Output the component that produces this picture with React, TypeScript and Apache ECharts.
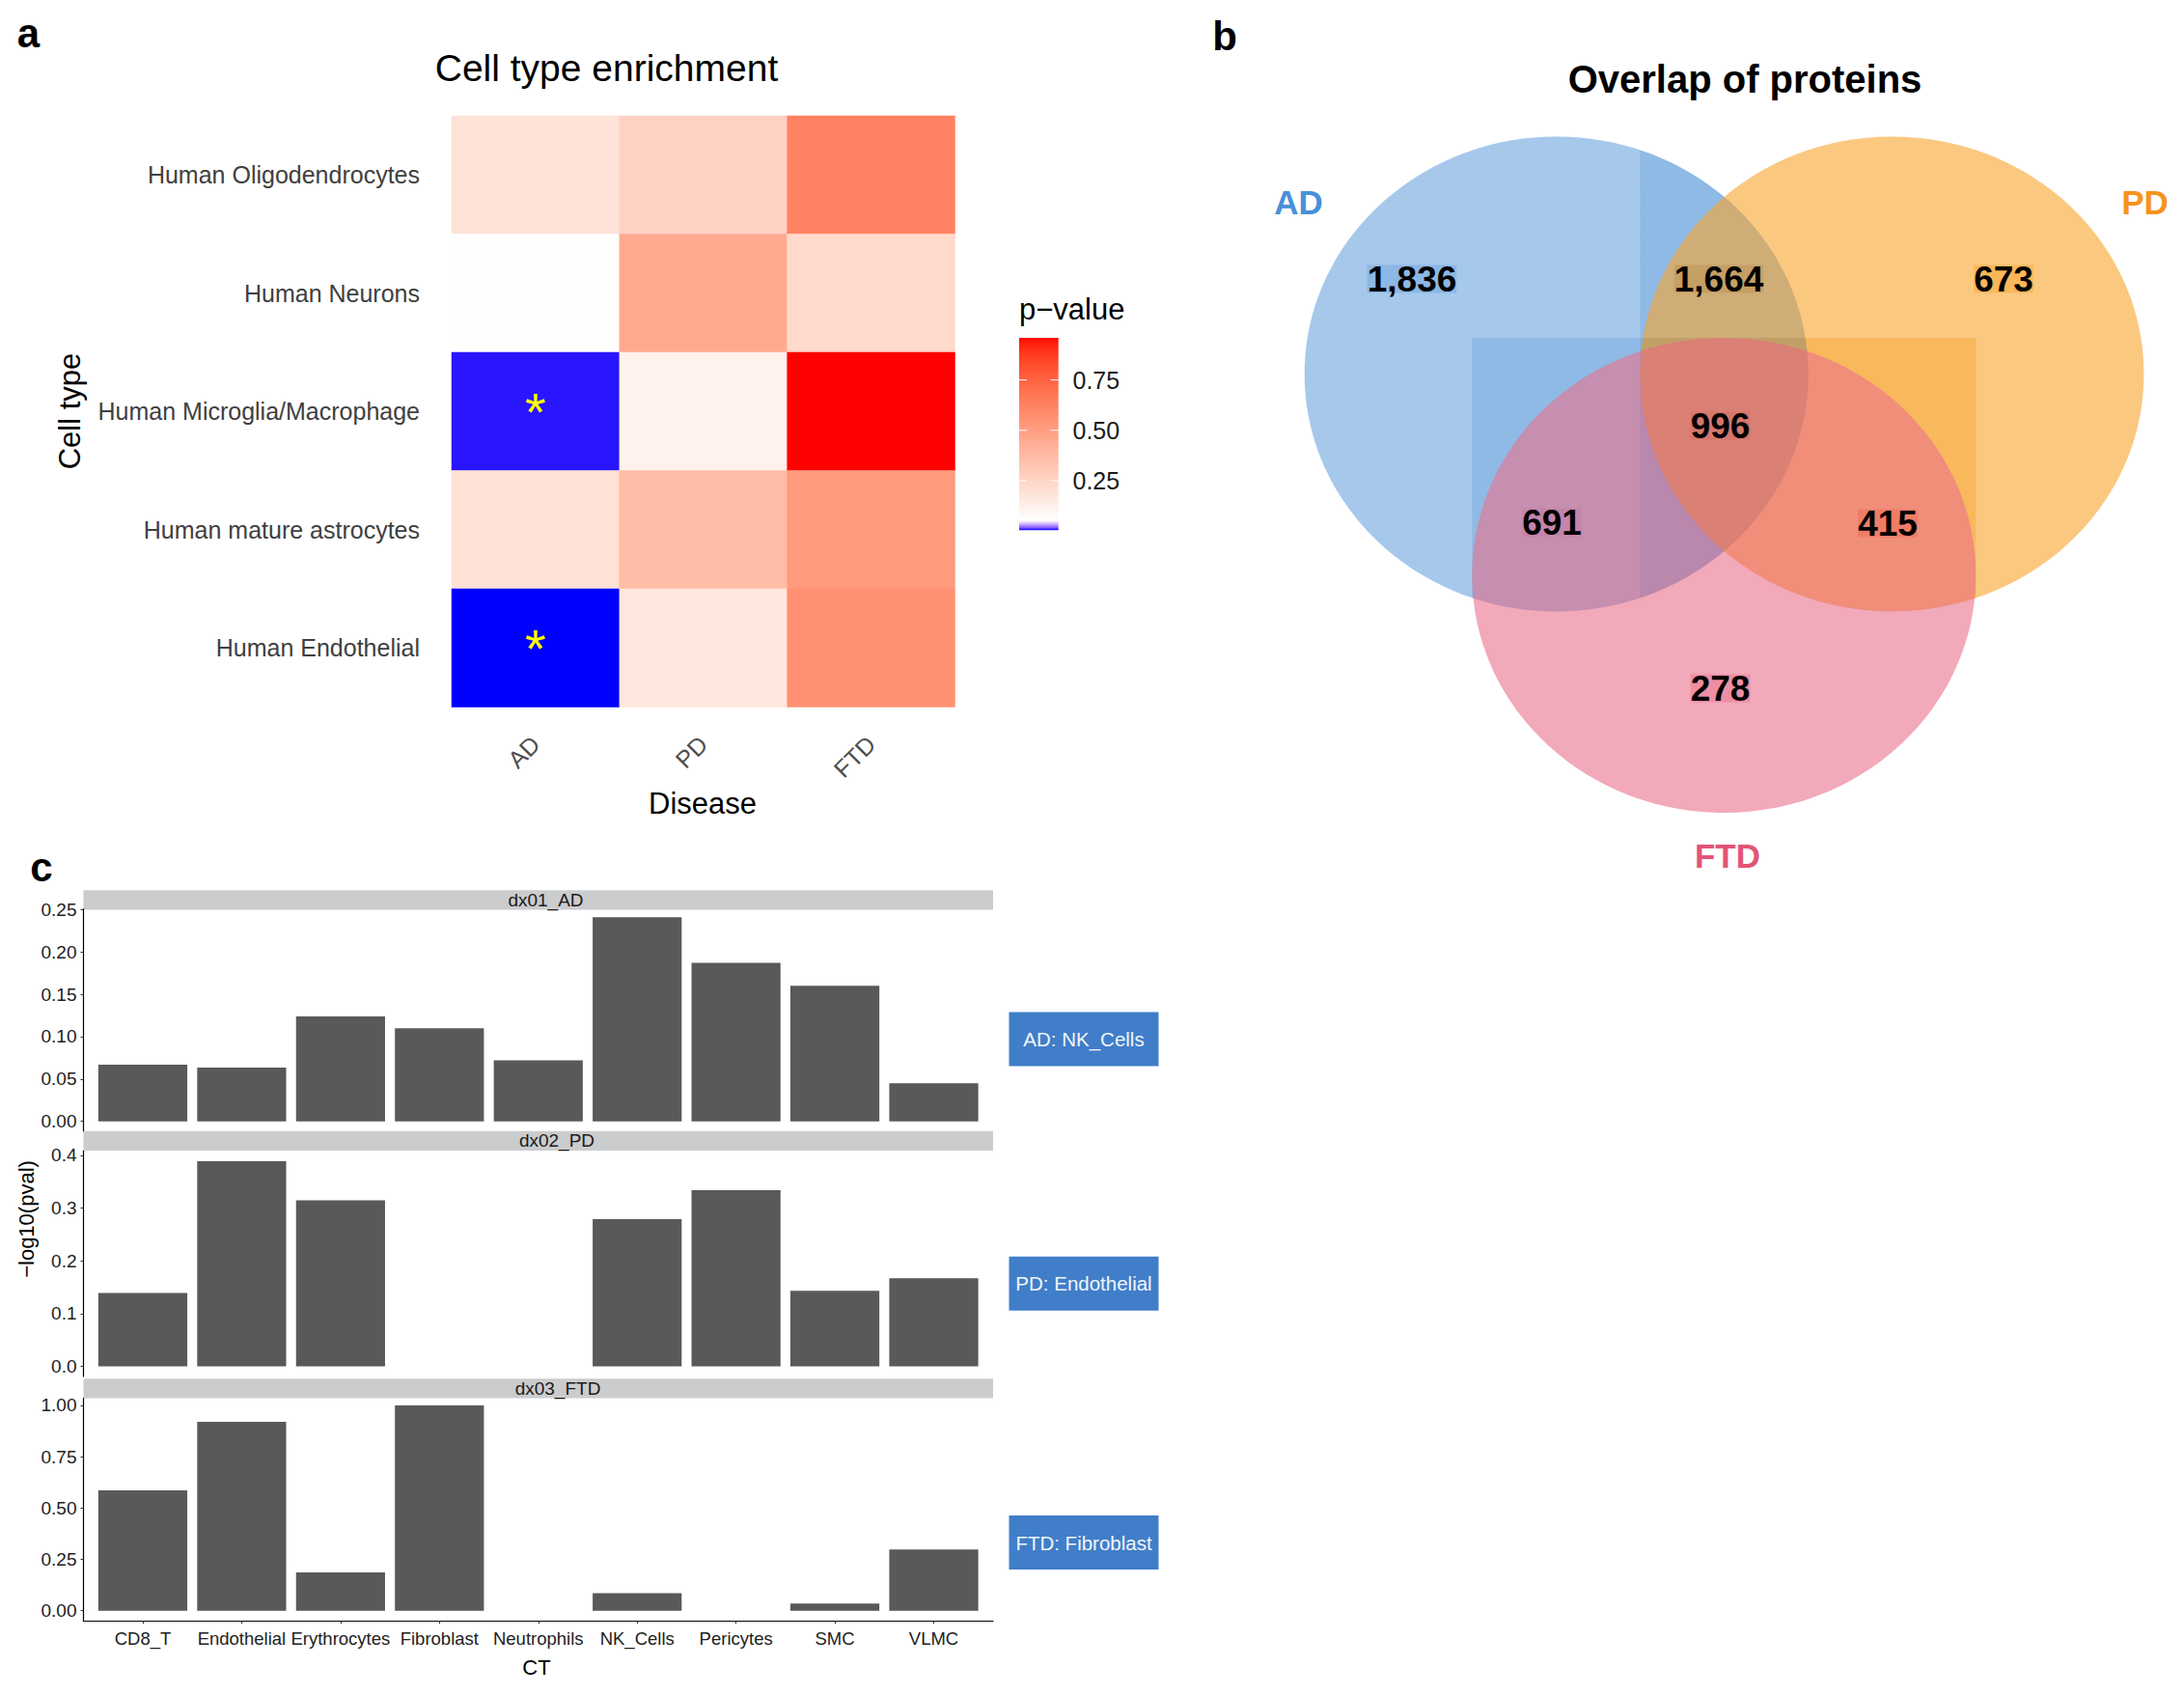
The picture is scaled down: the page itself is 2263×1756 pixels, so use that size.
import React, { useEffect, useRef } from 'react';
import * as echarts from 'echarts';

// ---------------- Panel a : cell type enrichment (p-values) ----------------
const diseases = ['AD', 'PD', 'FTD'];
const cellTypes = [
  'Human Oligodendrocytes',
  'Human Neurons',
  'Human Microglia/Macrophage',
  'Human mature astrocytes',
  'Human Endothelial',
];
const pValuesAD = [0.186, 0.0545, 0.0062, 0.195, 0.004];
const pValuesPD = [0.268, 0.45, 0.114, 0.368, 0.165];
const pValuesFTD = [0.623, 0.232, 0.959, 0.523, 0.56];
const significantAD = [false, false, true, false, true];
const legendTicks = [0.25, 0.5, 0.75];
const pMidpoint = 0.05;

// ---------------- Panel b : Venn counts ----------------
const vennSets = ['AD', 'PD', 'FTD'];
const vennRegions = ['AD', 'AD&PD', 'PD', 'AD&PD&FTD', 'AD&FTD', 'PD&FTD', 'FTD'];
const vennCounts = [1836, 1664, 673, 996, 691, 415, 278];

// ---------------- Panel c : -log10(pval) per cell type ----------------
const ctNames = ['CD8_T', 'Endothelial', 'Erythrocytes', 'Fibroblast', 'Neutrophils', 'NK_Cells', 'Pericytes', 'SMC', 'VLMC'];
const facetNames = ['dx01_AD', 'dx02_PD', 'dx03_FTD'];
const negLogP_AD = [0.067, 0.0635, 0.124, 0.11, 0.072, 0.241, 0.187, 0.16, 0.045];
const negLogP_PD = [0.139, 0.389, 0.315, 0, 0, 0.279, 0.334, 0.143, 0.167];
const negLogP_FTD = [0.586, 0.92, 0.187, 1.0, 0, 0.085, 0, 0.035, 0.298];
const topCellLabels = ['AD: NK_Cells', 'PD: Endothelial', 'FTD: Fibroblast'];
const ticksAD = [0, 0.05, 0.1, 0.15, 0.2, 0.25];
const ticksPD = [0, 0.1, 0.2, 0.3, 0.4];
const ticksFTD = [0, 0.25, 0.5, 0.75, 1];

const FONT = 'Liberation Sans, Arial, Helvetica, sans-serif';

// ---------- colour helpers (Lab interpolation like ggplot) ----------
function srgbToLin(c: number) {
  c /= 255;
  return c <= 0.04045 ? c / 12.92 : Math.pow((c + 0.055) / 1.055, 2.4);
}
function linToSrgb(c: number) {
  const v = c <= 0.0031308 ? 12.92 * c : 1.055 * Math.pow(Math.max(c, 0), 1 / 2.4) - 0.055;
  return Math.round(Math.max(0, Math.min(1, v)) * 255);
}
const Xn = 0.95047, Yn = 1, Zn = 1.08883;
const fLab = (t: number) => (t > 0.008856 ? Math.cbrt(t) : 7.787 * t + 16 / 116);
const fInv = (t: number) => (t > 0.206893 ? t * t * t : (t - 16 / 116) / 7.787);
function rgbToLab(rgb: number[]) {
  const R = srgbToLin(rgb[0]), G = srgbToLin(rgb[1]), B = srgbToLin(rgb[2]);
  const X = 0.4124 * R + 0.3576 * G + 0.1805 * B;
  const Y = 0.2126 * R + 0.7152 * G + 0.0722 * B;
  const Z = 0.0193 * R + 0.1192 * G + 0.9505 * B;
  const fx = fLab(X / Xn), fy = fLab(Y / Yn), fz = fLab(Z / Zn);
  return [116 * fy - 16, 500 * (fx - fy), 200 * (fy - fz)];
}
function labToHex(lab: number[]) {
  const fy = (lab[0] + 16) / 116, fx = fy + lab[1] / 500, fz = fy - lab[2] / 200;
  const X = Xn * fInv(fx), Y = Yn * fInv(fy), Z = Zn * fInv(fz);
  const R = 3.2406 * X - 1.5372 * Y - 0.4986 * Z;
  const G = -0.9689 * X + 1.8758 * Y + 0.0415 * Z;
  const B = 0.0557 * X - 0.204 * Y + 1.057 * Z;
  return '#' + [R, G, B].map((c) => linToSrgb(c).toString(16).padStart(2, '0')).join('');
}
const LAB_LOW = rgbToLab([0, 0, 255]);
const LAB_MID = rgbToLab([255, 255, 255]);
const LAB_HIGH = rgbToLab([255, 0, 0]);
const mixLab = (a: number[], b: number[], t: number) => a.map((x, i) => x + (b[i] - x) * t);
const clamp01 = (t: number) => Math.max(0, Math.min(1, t));

const allP = [...pValuesAD, ...pValuesPD, ...pValuesFTD];
const pMin = Math.min(...allP);
const pMax = Math.max(...allP);
function colorAt(v: number) {
  if (v <= pMidpoint) return labToHex(mixLab(LAB_LOW, LAB_MID, clamp01((v - pMin) / (pMidpoint - pMin))));
  return labToHex(mixLab(LAB_MID, LAB_HIGH, clamp01((v - pMidpoint) / (pMax - pMidpoint))));
}

// ---------- Venn geometry helpers ----------
type Ell = { cx: number; cy: number; rx: number; ry: number };
function span(e: Ell, x: number) {
  const d = (x - e.cx) / e.rx;
  if (Math.abs(d) > 1) return null;
  const h = e.ry * Math.sqrt(Math.max(0, 1 - d * d));
  return [e.cy - h, e.cy + h];
}
// region: X inside bounding box of Y but outside ellipse Y
function tintPieces(X: Ell, Y: Ell) {
  const bx0 = Y.cx - Y.rx, by0 = Y.cy - Y.ry, bx1 = Y.cx + Y.rx, by1 = Y.cy + Y.ry;
  const x0 = Math.max(X.cx - X.rx, bx0), x1 = Math.min(X.cx + X.rx, bx1);
  if (x0 >= x1) return [] as number[][][];
  const n = Math.ceil((x1 - x0) / 1.5);
  const tu: number[][] = [], tl: number[][] = [], bu: number[][] = [], bl: number[][] = [];
  for (let i = 0; i <= n; i++) {
    const x = x0 + ((x1 - x0) * i) / n;
    const s = span(X, x) || [X.cy, X.cy];
    let a = Math.max(s[0], by0), b = Math.min(s[1], by1);
    if (a > b) { const m = b < by0 ? by0 : by1; a = m; b = m; }
    const t = span(Y, x);
    const topLow = t ? Math.max(a, Math.min(b, t[0])) : b;
    const botUp = t ? Math.min(b, Math.max(a, t[1])) : b;
    tu.push([x, a]); tl.push([x, topLow]);
    bu.push([x, botUp]); bl.push([x, b]);
  }
  return [tu.concat(tl.reverse()), bu.concat(bl.reverse())];
}

function txt(x: number, y: number, text: string, size: number, o: any = {}) {
  const align = o.align || 'center';
  const valign = o.valign || 'middle';
  return {
    type: 'text', x, y, rotation: o.rotation || 0, silent: true, z: o.z || 10,
    style: {
      text, fontSize: size, fontFamily: FONT, fontWeight: o.weight || 'normal', fill: o.color || '#000',
      align, verticalAlign: valign, textAlign: align, textVerticalAlign: valign,
      backgroundColor: o.bg, lineHeight: o.lineHeight, padding: o.padding,
    },
  };
}

function buildOption() {
  // ---- heatmap ----
  const heatCols = [pValuesAD, pValuesPD, pValuesFTD];
  const heatData: any[] = [];
  heatCols.forEach((col, xi) =>
    col.forEach((v, ri) => {
      const star = xi === 0 && significantAD[ri];
      heatData.push({ value: [xi, cellTypes.length - 1 - ri, v], label: { show: star } });
    })
  );
  const N = 241;
  const vmStops: string[] = [];
  for (let i = 0; i < N; i++) vmStops.push(colorAt(pMin + ((pMax - pMin) * i) / (N - 1)));

  const heatGrid = { left: 468, top: 120, width: 521.5, height: 612.6 };

  // ---- facets ----
  const facetVals = [negLogP_AD, negLogP_PD, negLogP_FTD];
  const facetTicks = [ticksAD, ticksPD, ticksFTD];
  const facetDigits = [2, 1, 2];
  const facetRange = [
    [-0.0114, 0.2507],
    [-0.0194, 0.4086],
    [-0.0498, 1.034],
  ];
  const panelLeft = 86.5, panelRight = 1029;
  const panelTops = [941.7, 1192.3, 1448.7];
  const panelHeights = [230, 233.7, 230.6];
  const stripTops = [922.3, 1171.7, 1428.3];
  const stripH = 20.2;
  const stripTextX = [565.5, 577, 578];
  const boxTops = [1048.5, 1301.8, 1570];
  const xMin = 0.4, xMax = ctNames.length + 0.6;
  const unitPx = (panelRight - panelLeft) / (xMax - xMin);
  const catPositions = ctNames.map((_, i) => i + 1);

  const grids: any[] = [
    { ...heatGrid, containLabel: false, outerBoundsMode: 'none' },
    ...panelTops.map((t, k) => ({
      left: panelLeft, top: t, width: panelRight - panelLeft, height: panelHeights[k],
      containLabel: false, outerBoundsMode: 'none',
    })),
  ];

  const xAxes: any[] = [
    {
      type: 'category', gridIndex: 0, data: diseases,
      axisLine: { show: false }, axisTick: { show: false }, splitLine: { show: false }, splitArea: { show: false },
      axisLabel: { rotate: 45, margin: 34, fontSize: 25, color: '#4d4d4d', fontFamily: FONT },
    },
  ];
  const yAxes: any[] = [
    {
      type: 'category', gridIndex: 0, data: [...cellTypes].reverse(),
      axisLine: { show: false }, axisTick: { show: false }, splitLine: { show: false }, splitArea: { show: false },
      axisLabel: { margin: 33, fontSize: 25, color: '#404040', fontFamily: FONT },
    },
  ];
  facetVals.forEach((_, k) => {
    const last = k === facetVals.length - 1;
    xAxes.push({
      type: 'value', gridIndex: k + 1, min: xMin, max: xMax, show: last,
      splitLine: { show: false },
      axisLine: { show: true, onZero: false, lineStyle: { color: '#000', width: 1.2 } },
      axisTick: { show: true, length: 3, customValues: catPositions, lineStyle: { color: '#333' } },
      axisLabel: {
        customValues: catPositions, margin: 9, fontSize: 18.5, color: '#222', fontFamily: FONT,
        formatter: (v: number) => ctNames[Math.round(v) - 1] || '',
      },
    });
    yAxes.push({
      type: 'value', gridIndex: k + 1, min: facetRange[k][0], max: facetRange[k][1],
      splitLine: { show: false },
      axisLine: { show: true, onZero: false, lineStyle: { color: '#000', width: 1.2 } },
      axisTick: { show: true, length: 3, customValues: facetTicks[k], lineStyle: { color: '#333' } },
      axisLabel: {
        customValues: facetTicks[k], margin: 7, fontSize: 19, color: '#222', fontFamily: FONT,
        formatter: (v: number) => v.toFixed(facetDigits[k]),
      },
    });
  });

  const series: any[] = [
    {
      type: 'heatmap', xAxisIndex: 0, yAxisIndex: 0, data: heatData, silent: true,
      emphasis: { disabled: true },
      itemStyle: { borderWidth: 0 },
      label: { show: false, formatter: '*', color: '#ffff00', fontSize: 56, fontFamily: FONT, position: 'inside' },
    },
    ...facetVals.map((vals, k) => ({
      type: 'bar', xAxisIndex: k + 1, yAxisIndex: k + 1, silent: true,
      data: vals.map((v, i) => [i + 1, v]),
      barWidth: unitPx * 0.9,
      itemStyle: { color: '#595959' },
    })),
  ];

  // ---------------- graphic elements ----------------
  const g: any[] = [];
  // panel letters
  g.push(txt(29.5, 34, 'a', 42, { weight: 'bold' }));
  g.push(txt(1269, 37.5, 'b', 42, { weight: 'bold' }));
  g.push(txt(43, 898, 'c', 42, { weight: 'bold' }));

  // panel a texts
  g.push(txt(628.5, 70, 'Cell type enrichment', 39));
  g.push(txt(72.5, 426, 'Cell type', 31, { rotation: Math.PI / 2 }));
  g.push(txt(728, 832, 'Disease', 31));
  // legend
  g.push(txt(1056, 320.5, 'p\u2212value', 31, { align: 'left' }));
  const lgX = 1056, lgY = 350, lgW = 40.7, lgH = 199.3;
  const lgStops: any[] = [];
  for (let i = 0; i <= 80; i++) {
    const off = i / 80;
    lgStops.push({ offset: off, color: colorAt(pMax - (pMax - pMin) * off) });
  }
  g.push({
    type: 'rect', silent: true, shape: { x: lgX, y: lgY, width: lgW, height: lgH },
    style: { fill: { type: 'linear', x: 0, y: 0, x2: 0, y2: 1, colorStops: lgStops, global: false } },
  });
  legendTicks.forEach((v) => {
    const y = lgY + lgH - ((v - pMin) / (pMax - pMin)) * lgH;
    g.push({ type: 'line', silent: true, shape: { x1: lgX, y1: y, x2: lgX + 8, y2: y }, style: { stroke: '#fff', lineWidth: 1 } });
    g.push({ type: 'line', silent: true, shape: { x1: lgX + lgW - 8, y1: y, x2: lgX + lgW, y2: y }, style: { stroke: '#fff', lineWidth: 1 } });
    g.push(txt(1111.5, y, v.toFixed(2), 25, { align: 'left', color: '#1a1a1a' }));
  });

  // ---------------- panel b : Venn ----------------
  const ells: Ell[] = [
    { cx: 1612.7, cy: 387.5, rx: 261, ry: 246 },
    { cx: 1960.4, cy: 387.5, rx: 261, ry: 246 },
    { cx: 1786.3, cy: 596, rx: 261, ry: 246 },
  ];
  const setRGB = [
    [77, 145, 215],
    [247, 145, 1],
    [229, 83, 115],
  ];
  const rgba = (c: number[], a: number) => `rgba(${c[0]},${c[1]},${c[2]},${a})`;
  const ell = (e: Ell, fill: string) => ({
    type: 'ellipse', silent: true, shape: { cx: e.cx, cy: e.cy, rx: e.rx, ry: e.ry }, style: { fill },
  });
  const poly = (pts: number[][], fill: string) => ({ type: 'polygon', silent: true, shape: { points: pts }, style: { fill } });
  const tintA = [0.26, 0.28, 0.26];
  // AD
  g.push(ell(ells[0], rgba(setRGB[0], 0.5)));
  tintPieces(ells[0], ells[1]).forEach((p) => g.push(poly(p, rgba(setRGB[0], tintA[0]))));
  // PD
  g.push(ell(ells[1], rgba(setRGB[1], 0.5)));
  tintPieces(ells[0], ells[2]).forEach((p) => g.push(poly(p, rgba(setRGB[0], tintA[0]))));
  tintPieces(ells[1], ells[2]).forEach((p) => g.push(poly(p, rgba(setRGB[1], tintA[1]))));
  // FTD
  g.push(ell(ells[2], rgba(setRGB[2], 0.5)));

  g.push(txt(1808, 82, 'Overlap of proteins', 40, { weight: 'bold' }));
  const setLabelPos = [
    [1345.5, 209],
    [2222.5, 209],
    [1790, 886],
  ];
  const setLabelColor = ['#4a90d9', '#f7931e', '#e15577'];
  vennSets.forEach((s, i) => g.push(txt(setLabelPos[i][0], setLabelPos[i][1], s, 35, { weight: 'bold', color: setLabelColor[i] })));

  const vennLabelPos = [
    [1463, 289],
    [1781, 289],
    [2076, 289],
    [1782.5, 441],
    [1608, 541],
    [1956, 542],
    [1782.5, 713],
  ];
  const vennLabelBg = [
    'rgba(77,145,215,0.28)',
    'rgba(170,110,40,0.22)',
    'rgba(247,145,1,0.3)',
    'rgba(200,70,70,0.18)',
    'rgba(190,90,140,0.15)',
    'rgba(235,90,60,0.32)',
    'rgba(229,83,115,0.3)',
  ];
  vennRegions.forEach((_, i) =>
    g.push(
      txt(vennLabelPos[i][0], vennLabelPos[i][1], vennCounts[i].toLocaleString('en-US'), 37, {
        weight: 'bold', color: '#000', bg: vennLabelBg[i], lineHeight: 29, padding: [0, 0],
      })
    )
  );

  // ---------------- panel c decorations ----------------
  facetNames.forEach((name, k) => {
    g.push({
      type: 'rect', silent: true,
      shape: { x: panelLeft, y: stripTops[k], width: panelRight - panelLeft, height: stripH },
      style: { fill: '#cbcccd' },
    });
    g.push(txt(stripTextX[k], stripTops[k] + stripH / 2, name, 19, { color: '#1a1a1a' }));
    g.push({
      type: 'rect', silent: true, shape: { x: 1045.5, y: boxTops[k], width: 155, height: 56 },
      style: { fill: '#407ec9' },
    });
    g.push(txt(1123, boxTops[k] + 28, topCellLabels[k], 20.5, { color: '#f2f5fa' }));
  });
  g.push(txt(27, 1263, '\u2212log10(pval)', 22, { rotation: Math.PI / 2 }));
  g.push(txt(556, 1727, 'CT', 22));

  return {
    animation: false,
    backgroundColor: '#ffffff',
    textStyle: { fontFamily: FONT },
    grid: grids,
    xAxis: xAxes,
    yAxis: yAxes,
    visualMap: [
      {
        type: 'continuous', show: false, seriesIndex: 0, dimension: 2,
        min: pMin, max: pMax, inRange: { color: vmStops },
      },
    ],
    series,
    graphic: { elements: g },
  };
}

export default function App() {
  const ref = useRef<HTMLDivElement>(null);
  useEffect(() => {
    if (!ref.current) return;
    const chart = echarts.init(ref.current, null, { renderer: 'svg' });
    chart.setOption(buildOption() as any);
    return () => chart.dispose();
  }, []);
  return (
    <div
      ref={ref}
      style={{ position: 'fixed', left: 0, top: 0, width: 2263, height: 1756, background: '#ffffff' }}
    />
  );
}
